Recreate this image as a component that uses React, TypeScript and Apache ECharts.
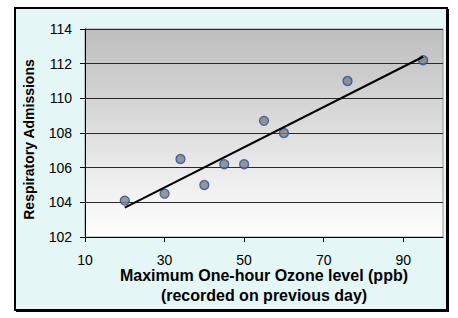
import React, { useEffect, useRef } from "react";
import * as echarts from "echarts";

const ozone = [20, 30, 34, 40, 45, 50, 55, 60, 76, 95];
const admissions = [104.1, 104.5, 106.5, 105.0, 106.2, 106.2, 108.7, 108.0, 111.0, 112.2];
const trendX = [20, 95];
const trendY = [103.7, 112.4];
const xTicks = [10, 30, 50, 70, 90];
const xTitle = "Maximum One-hour Ozone level (ppb)\n(recorded on previous day)";
const yTitle = "Respiratory Admissions";

export default function App() {
  const ref = useRef<HTMLDivElement>(null);
  useEffect(() => {
    if (!ref.current) return;
    const chart = echarts.init(ref.current, null, { renderer: "svg" });
    const font = "'Liberation Sans', Arial, sans-serif";
    chart.setOption({
      animation: false,
      graphic: [
        {
          type: "rect",
          z: -10,
          shape: { x: 15, y: 8, width: 432, height: 302 },
          style: { fill: "#E4F6F6", stroke: "#000", lineWidth: 2 },
        },
        {
          type: "line",
          z: -9,
          shape: { x1: 448.5, y1: 9, x2: 448.5, y2: 312 },
          style: { stroke: "#000", lineWidth: 1 },
        },
        {
          type: "line",
          z: -9,
          shape: { x1: 16, y1: 311.5, x2: 449, y2: 311.5 },
          style: { stroke: "#000", lineWidth: 1 },
        },
      ],
      grid: {
        left: 85,
        top: 29,
        right: 15,
        bottom: 81,
        show: true,
        borderColor: "#999",
        borderWidth: 1,
        backgroundColor: new echarts.graphic.LinearGradient(0, 0, 0, 1, [
          { offset: 0, color: "#BEBEBE" },
          { offset: 1, color: "#FFFFFF" },
        ]),
      },
      xAxis: {
        type: "value",
        min: 10,
        max: 100,
        interval: 20,
        name: xTitle,
        nameLocation: "middle",
        nameGap: 28,
        nameMoveOverlap: false,
        nameTextStyle: {
          fontFamily: font,
          fontSize: 16,
          fontWeight: "bold",
          color: "#000",
          lineHeight: 20,
        },
        axisLine: { show: true, lineStyle: { color: "#000", width: 1 } },
        axisTick: { show: true, length: 5, customValues: xTicks, lineStyle: { color: "#000" } },
        axisLabel: {
          customValues: xTicks,
          margin: 18,
          fontFamily: font,
          fontSize: 14,
          lineHeight: 10,
          color: "#000",
        },
        splitLine: { show: false },
      },
      yAxis: {
        type: "value",
        min: 102,
        max: 114,
        interval: 2,
        name: yTitle,
        nameLocation: "middle",
        nameGap: 49,
        nameMoveOverlap: false,
        nameTextStyle: {
          fontFamily: font,
          fontSize: 14,
          fontWeight: "bold",
          color: "#000",
          padding: [0, 13, 0, 0],
        },
        axisLine: { show: true, lineStyle: { color: "#000", width: 1 } },
        axisTick: { show: true, length: 5, lineStyle: { color: "#000" } },
        axisLabel: {
          margin: 13,
          fontFamily: font,
          fontSize: 14,
          color: "#000",
        },
        splitLine: { show: true, lineStyle: { color: "#2a2a2a", width: 1 } },
      },
      series: [
        {
          type: "line",
          data: trendX.map((x, i) => [x, trendY[i]]),
          symbol: "none",
          lineStyle: { color: "#000", width: 2 },
          z: 3,
        },
        {
          type: "scatter",
          data: ozone.map((x, i) => [x, admissions[i]]),
          symbol: "circle",
          symbolSize: 9,
          itemStyle: { color: "#808080", borderColor: "#1F4E99", borderWidth: 1.3 },
          z: 2,
        },
      ],
    });
    return () => chart.dispose();
  }, []);
  return (
    <div
      ref={ref}
      style={{ position: "fixed", left: 0, top: 0, width: 458, height: 318, background: "#fff" }}
    />
  );
}
